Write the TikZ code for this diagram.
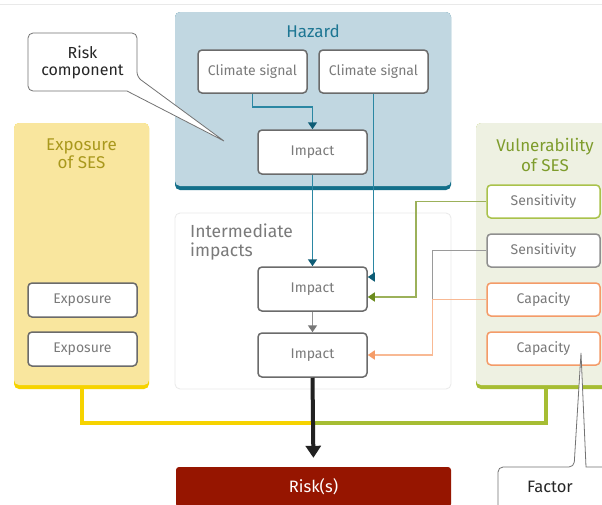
\documentclass[tikz,border=0pt]{standalone}
\usepackage{fontspec}
\setmainfont{Fira Sans}
\usetikzlibrary{arrows.meta,calc}
\definecolor{hazfill}{HTML}{C1D7E1}
\definecolor{hazbar}{HTML}{136F8A}
\definecolor{hazttl}{HTML}{1D7693}
\definecolor{tealline}{HTML}{2B87A3}
\definecolor{tealdark}{HTML}{0E5C75}
\definecolor{expfill}{HTML}{F9E69E}
\definecolor{expbar}{HTML}{F6D300}
\definecolor{expttl}{HTML}{A9981C}
\definecolor{vulfill}{HTML}{EEF1E2}
\definecolor{vulbar}{HTML}{A6BD33}
\definecolor{vulttl}{HTML}{7E9C2C}
\definecolor{senA}{HTML}{A9C24B}
\definecolor{senB}{HTML}{8F8F8F}
\definecolor{capO}{HTML}{F49B68}
\definecolor{greenline}{HTML}{9CB15A}
\definecolor{greendark}{HTML}{6B8B1E}
\definecolor{grayline}{HTML}{9A9A9A}
\definecolor{graydark}{HTML}{777777}
\definecolor{orangeline}{HTML}{F8B994}
\definecolor{orangedark}{HTML}{F59C68}
\definecolor{boxgray}{HTML}{6B6B6B}
\definecolor{txtgray}{HTML}{7A7A7A}
\definecolor{riskred}{HTML}{961500}
\definecolor{faint}{HTML}{E9E9E9}
\begin{document}
\begin{tikzpicture}[x=1pt,y=-1pt,
  panel/.style={rounded corners=5pt, inner sep=0pt, draw=none},
  box/.style={draw=boxgray, line width=1.5pt, rounded corners=4pt, fill=white, text=txtgray,
    font=\fontsize{14}{16}\selectfont, minimum width=109pt, minimum height=43pt, inner sep=0pt},
  sbox/.style={box, minimum width=113pt, minimum height=33pt},
  ebox/.style={box, minimum height=34pt},
  ttl/.style={font=\fontsize{17}{19}\selectfont, align=center},
  conn/.style={line width=1.5pt},
  tip/.style={-{Triangle[width=9pt,length=7pt,color=#1]}},
  callout/.style={draw=black!55, line width=0.8pt, fill=white},
  ctext/.style={font=\fontsize{16}{17}\selectfont, align=center, text=black!85}
]
\useasboundingbox (0,0) rectangle (602,504);
\clip (0,0) rectangle (602,504);
\fill[white] (0,0) rectangle (602,504);
\draw[faint, line width=0.8pt] (0,4) -- (602,4);

% panels
\node[panel, fill=hazbar, minimum width=276pt, minimum height=178pt] (hazB) at (313,101) {};
\node[panel, fill=hazfill, minimum width=276pt, minimum height=174pt] (haz) at (313,99) {};
\node[panel, fill=expbar, minimum width=135pt, minimum height=266pt] (expoB) at (81.5,256) {};
\node[panel, fill=expfill, minimum width=135pt, minimum height=262pt] (expo) at (81.5,254) {};
\node[panel, fill=vulbar, minimum width=150pt, minimum height=266pt] (vulB) at (551,256) {};
\node[panel, fill=vulfill, minimum width=150pt, minimum height=262pt] (vul) at (551,254) {};
\node[panel, draw=faint, line width=0.8pt, fill=white, minimum width=276pt, minimum height=176pt] (inter) at (313,301) {};

% titles
\node[ttl, text=hazttl] (hazT) at (313,31) {Hazard};
\node[ttl, text=expttl, font=\fontsize{17}{18}\selectfont] (expT) at (81.5,154) {Exposure\\of SES};
\node[ttl, text=vulttl, font=\fontsize{17}{20}\selectfont] (vulT) at (545,155) {Vulnerability\\of SES};
\node[anchor=west, align=left, text=txtgray, font=\fontsize{17.5}{19}\selectfont, inner sep=0pt] (interT) at (190,242.5) {Intermediate\\impacts};

% boxes
\node[box] (cs1) at (252.5,71.5) {Climate signal};
\node[box] (cs2) at (373.5,71.5) {Climate signal};
\node[box, minimum height=44pt] (imp0) at (312.5,152) {Impact};
\node[box, minimum height=44pt] (imp1) at (312.5,289) {Impact};
\node[box, minimum height=44pt] (imp2) at (312.5,355) {Impact};
\node[ebox] (exp1) at (82.5,300) {Exposure};
\node[ebox] (exp2) at (82.5,349) {Exposure};
\node[sbox, draw=senA] (sen1) at (543.5,201.5) {Sensitivity};
\node[sbox, draw=senB] (sen2) at (543.5,250.5) {Sensitivity};
\node[sbox, draw=capO] (cap1) at (543.5,299.5) {Capacity};
\node[sbox, draw=capO] (cap2) at (543.5,348.5) {Capacity};

% connectors
\coordinate (j) at ([xshift=-54pt]cap1.west);
\coordinate (m) at (313,423);
\coordinate (vb) at (546,388);
\draw[conn, tealline, tip=tealdark] (cs1.south) -- ++(0,13) -| (imp0.north);
\draw[conn, tealline, tip=tealdark] (imp0.south) -- (imp1.north);
\draw[conn, tealline, tip=tealdark] (cs2.south) |- ([yshift=12pt]imp1.east);
\draw[conn, greenline, tip=greendark] (sen1.west) -| ([xshift=48pt,yshift=-8pt]imp1.east) -- ([yshift=-8pt]imp1.east);
\draw[conn, grayline] (sen2.west) -| (j);
\draw[conn, orangeline, tip=orangedark] (cap1.west) -- (j) |- (imp2.east);
\draw[conn, graydark!80, tip=graydark] (imp1.south) -- (imp2.north);
\draw[line width=4pt, expbar] (expoB.south) |- (m);
\draw[line width=4pt, vulbar] (m) -| (vb);

% risk
\node[fill=riskred, rounded corners=3pt, minimum width=275pt, minimum height=40pt, inner sep=0pt,
  text=white, font=\fontsize{16.5}{18}\selectfont] (risk) at (313.5,487) {Risk(s)};
\draw[line width=4pt, black!87, -{Triangle[width=15pt,length=12pt]}, shorten >=9pt] (imp2.south) -- (risk.north);

% callouts
\draw[callout] (28,62) [rounded corners=5pt] -- (28,33) -- (137,33) -- (137,77) [sharp corners] -- (224,141) -- (127,91) [rounded corners=5pt] -- (28,91) -- cycle;
\node[ctext] (rc) at (82.5,62) {Risk\\component};
\draw[callout] (498,520) [rounded corners=5pt] -- (498,467) -- (574,467) [sharp corners] -- (581,353) -- (586,467) -- (620,467) -- (620,520);
\node[ctext, font=\fontsize{16.5}{18}\selectfont] (fac) at (550,487) {Factor};
\end{tikzpicture}
\end{document}
